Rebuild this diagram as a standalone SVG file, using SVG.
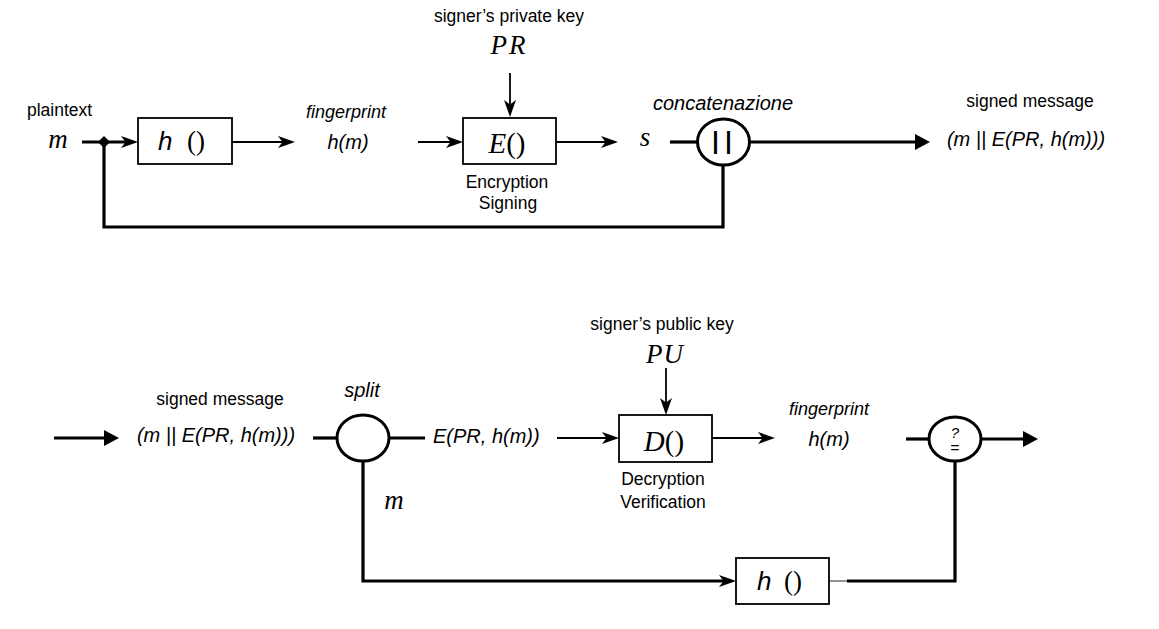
<svg xmlns="http://www.w3.org/2000/svg" width="1159" height="629" viewBox="0 0 1159 629">
<style>
  text { font-family: "Liberation Sans", Arial, sans-serif; fill: #000; }
  .lbl { font-size: 17.5px; }
  .big { font-size: 20px; font-style: italic; }
  .fp { font-size: 18px; font-style: italic; }
  .math { font-family: "Liberation Serif", "Times New Roman", serif; font-style: italic; font-size: 27px; }
  .fn { font-family: "Liberation Serif", "Times New Roman", serif; font-size: 29px; }
  .hs { font-size: 26px; font-style: italic; }
  .paren { font-family: "Liberation Serif", "Times New Roman", serif; font-style: normal; font-size: 27px; }
  .box { fill: #fff; stroke: #000; stroke-width: 1.8; }
  .node { fill: #fff; stroke: #000; stroke-width: 3; }
  .thin { fill: none; stroke: #000; stroke-width: 1.8; }
  .thick { fill: none; stroke: #000; stroke-width: 3.2; }
  .grey { fill: none; stroke: #888; stroke-width: 1.8; }
</style>
<defs>
  <marker id="stealth" markerUnits="userSpaceOnUse" markerWidth="18" markerHeight="14" refX="8" refY="6.5" orient="auto">
    <path d="M0,0.5 L17,6.5 L0,12.5 L4.5,6.5 z" fill="#000"/>
  </marker>
  <marker id="tri" markerUnits="userSpaceOnUse" markerWidth="16" markerHeight="17" refX="7" refY="8" orient="auto">
    <path d="M0,0 L15,8 L0,16 z" fill="#000"/>
  </marker>
</defs>
<rect x="0" y="0" width="1159" height="629" fill="#fff"/>

<g id="connectors">
  <!-- top row -->
  <line class="thick" x1="82" y1="142" x2="129" y2="142" marker-end="url(#stealth)"/>
  <polyline class="thick" points="104,142 104,227 723,227 723,165"/>
  <polygon points="104,136 110,142 104,148 98,142" fill="#000"/>
  <line class="thin" x1="232" y1="142" x2="286" y2="142" marker-end="url(#stealth)"/>
  <line class="thin" x1="418" y1="142" x2="454" y2="142" marker-end="url(#stealth)"/>
  <line class="thin" x1="510" y1="73" x2="510" y2="108" marker-end="url(#stealth)"/>
  <line class="thin" x1="556" y1="142" x2="609" y2="142" marker-end="url(#stealth)"/>
  <line class="thick" x1="670" y1="142" x2="698" y2="142"/>
  <line class="thick" x1="749" y1="142" x2="922" y2="142" marker-end="url(#tri)"/>
  <!-- bottom row -->
  <line class="thick" x1="54" y1="438" x2="111" y2="438" marker-end="url(#tri)"/>
  <line class="thick" x1="313" y1="438" x2="338" y2="438"/>
  <line class="thick" x1="388" y1="438" x2="425" y2="438"/>
  <line class="thin" x1="557" y1="438" x2="610" y2="438" marker-end="url(#stealth)"/>
  <line class="thin" x1="666" y1="368" x2="666" y2="406" marker-end="url(#stealth)"/>
  <line class="thin" x1="712" y1="438" x2="766" y2="438" marker-end="url(#stealth)"/>
  <line class="thick" x1="906" y1="439" x2="930" y2="439"/>
  <line class="thick" x1="980" y1="439" x2="1030" y2="439" marker-end="url(#tri)"/>
  <polyline class="thick" points="363,461 363,581 727,581" marker-end="url(#stealth)"/>
  <line class="grey" x1="829" y1="581" x2="847" y2="581"/>
  <polyline class="thick" points="847,581 955,581 955,461"/>
</g>

<g id="labels-top">
  <text class="lbl" x="59.5" y="116" text-anchor="middle">plaintext</text>
  <text class="math" x="58" y="148" text-anchor="middle">m</text>
  <text class="fp" x="346" y="118" text-anchor="middle">fingerprint</text>
  <text class="big" x="348" y="149" text-anchor="middle">h(m)</text>
  <text class="lbl" x="509" y="22" text-anchor="middle">signer’s private key</text>
  <text class="math" x="509" y="54" text-anchor="middle" letter-spacing="2">PR</text>
  <text class="math" x="645" y="146" text-anchor="middle">s</text>
  <text class="big" x="723" y="110" text-anchor="middle">concatenazione</text>
  <text class="lbl" x="1030" y="107" text-anchor="middle">signed message</text>
  <text class="big" x="1026" y="146" text-anchor="middle">(m || E(PR, h(m)))</text>
</g>

<g id="node-h1">
  <rect class="box" x="138" y="118" width="94" height="46"/>
  <text x="158" y="150"><tspan class="hs">h</tspan><tspan class="paren" x="187">()</tspan></text>
</g>

<g id="node-E">
  <rect class="box" x="463" y="118" width="93" height="46"/>
  <text class="fn" x="507" y="153" text-anchor="middle"><tspan font-style="italic">E</tspan>()</text>
  <text class="lbl" x="507" y="188" text-anchor="middle">Encryption</text>
  <text class="lbl" x="508" y="209" text-anchor="middle">Signing</text>
</g>

<g id="node-concat">
  <ellipse class="node" cx="723.5" cy="142" rx="26" ry="23"/>
  <text x="722" y="149" text-anchor="middle" font-size="23" font-weight="bold">| |</text>
</g>

<g id="labels-bottom">
  <text class="lbl" x="220" y="405" text-anchor="middle">signed message</text>
  <text class="big" x="216" y="442" text-anchor="middle">(m || E(PR, h(m)))</text>
  <text class="big" x="362" y="397" text-anchor="middle">split</text>
  <text class="big" x="433" y="443">E(PR, h(m))</text>
  <text class="math" x="394" y="509" text-anchor="middle">m</text>
  <text class="lbl" x="662" y="330" text-anchor="middle">signer’s public key</text>
  <text class="math" x="665" y="363" text-anchor="middle" letter-spacing="1">PU</text>
  <text class="fp" x="829" y="415" text-anchor="middle">fingerprint</text>
  <text class="big" x="829" y="446" text-anchor="middle">h(m)</text>
</g>

<g id="node-split">
  <ellipse class="node" cx="363" cy="438" rx="26" ry="23"/>
</g>

<g id="node-D">
  <rect class="box" x="619" y="415" width="93" height="47"/>
  <text class="fn" x="664" y="451" text-anchor="middle"><tspan font-style="italic">D</tspan>()</text>
  <text class="lbl" x="663" y="485" text-anchor="middle">Decryption</text>
  <text class="lbl" x="663" y="508" text-anchor="middle">Verification</text>
</g>

<g id="node-compare">
  <ellipse class="node" cx="955" cy="439" rx="26" ry="22"/>
  <text x="955" y="438" text-anchor="middle" font-size="15"><tspan font-style="italic">?</tspan><tspan x="955" dy="15" font-size="16">=</tspan></text>
</g>

<g id="node-h2">
  <rect class="box" x="736" y="558" width="93" height="46"/>
  <text x="757" y="590"><tspan class="hs">h</tspan><tspan class="paren" x="784">()</tspan></text>
</g>
</svg>
